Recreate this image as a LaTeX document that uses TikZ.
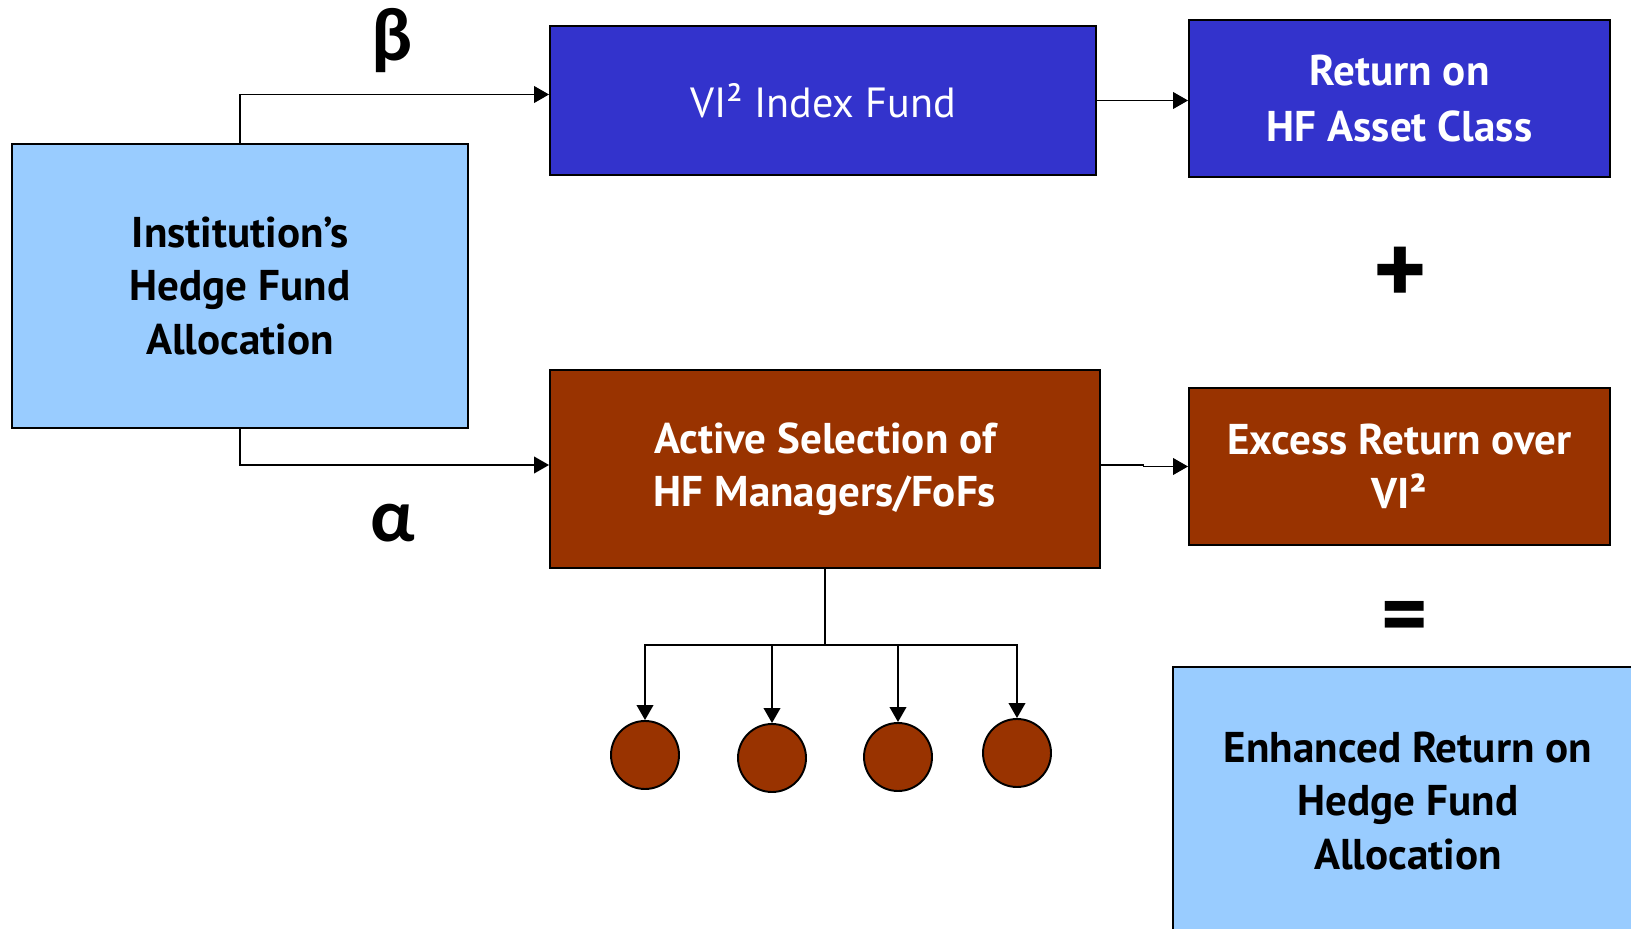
\documentclass[tikz,border=0pt]{standalone}
\usepackage{fontspec}
\setmainfont{PT Sans}
\newfontfamily\greekfont{Carlito}
\usepackage{tikz}
\usetikzlibrary{arrows.meta,shapes.geometric}
\definecolor{vipurple}{RGB}{51,51,204}
\definecolor{hfbrown}{RGB}{153,51,0}
\definecolor{hflight}{RGB}{153,204,255}
\tikzstyle{box} = [rectangle, draw=black, line width=1.1pt, align=center, inner sep=0pt, font=\fontsize{24.5}{30.5}\selectfont\bfseries]
\tikzstyle{index} = [box, fill=vipurple, text=white]
\tikzstyle{active} = [box, fill=hfbrown, text=white]
\tikzstyle{alloc} = [box, fill=hflight, text=black]
\tikzstyle{fund} = [circle, draw=black, line width=1.1pt, fill=hfbrown, minimum size=1.36cm, inner sep=0pt]
\tikzstyle{greek} = [font=\greekfont\bfseries\fontsize{43}{43}\selectfont]
\tikzstyle{arrow} = [line width=0.8pt,-{Triangle[length=8.5pt,width=9.5pt]}]

\begin{document}
\begin{tikzpicture}
        \useasboundingbox (0,0) rectangle (32.62,18.56);
        \node[alloc, minimum width=9.12cm, minimum height=5.68cm] (inst) at (4.80,12.84) {Institution’s\\Hedge Fund\\Allocation};
        \node[index, minimum width=10.92cm, minimum height=2.98cm, font=\fontsize{24}{30}\selectfont] (vi) at (16.46,16.55) {VI² Index Fund};
        \node[index, minimum width=8.42cm, minimum height=3.14cm, font=\fontsize{24.5}{32}\selectfont\bfseries] (ret) at (27.99,16.59) {Return on\\HF Asset Class};
        \node[active, minimum width=11.0cm, minimum height=3.96cm] (act) at (16.5,9.18) {Active Selection of\\HF Managers/FoFs};
        \node[active, minimum width=8.42cm, minimum height=3.14cm] (exc) at (27.99,9.23) {Excess Return over\\VI²};
        \node[alloc, minimum width=9.4cm, minimum height=5.36cm] (enh) at (28.16,2.54) {Enhanced Return on\\Hedge Fund\\Allocation};
        \node[font=\bfseries\fontsize{58}{58}\selectfont] (plus) at (28.0,13.04) {+};
        \node[font=\bfseries\fontsize{50}{50}\selectfont] (eq) at (28.1,6.1) {=};
        \node[greek] (beta) at (7.84,17.74) {β};
        \node[greek] (alpha) at (7.86,8.1) {α};
        \draw[arrow] (inst.north) |- ([yshift=0.12cm]vi.west);
        \draw[arrow] (inst.south) |- ([yshift=0.08cm]act.west);
        \draw[arrow] (vi.east) -- (vi.east -| ret.west);
        \draw[arrow] ([yshift=0.08cm]act.east) -- ++(0.85,0) |- (exc.west);
        % funds picked by the manager
        \foreach \n/\x/\y in {1/12.9/3.46, 2/15.44/3.40, 3/17.96/3.42, 4/20.34/3.50}
            \node[fund] (f\n) at (\x,\y) {};
        \coordinate (split) at (16.5,5.66);
        \draw[line width=1.3pt] (act.south) -- (split);
        \foreach \n in {1,...,4}
            \draw[arrow] (split) -| (f\n.north);
\end{tikzpicture}
\end{document}
